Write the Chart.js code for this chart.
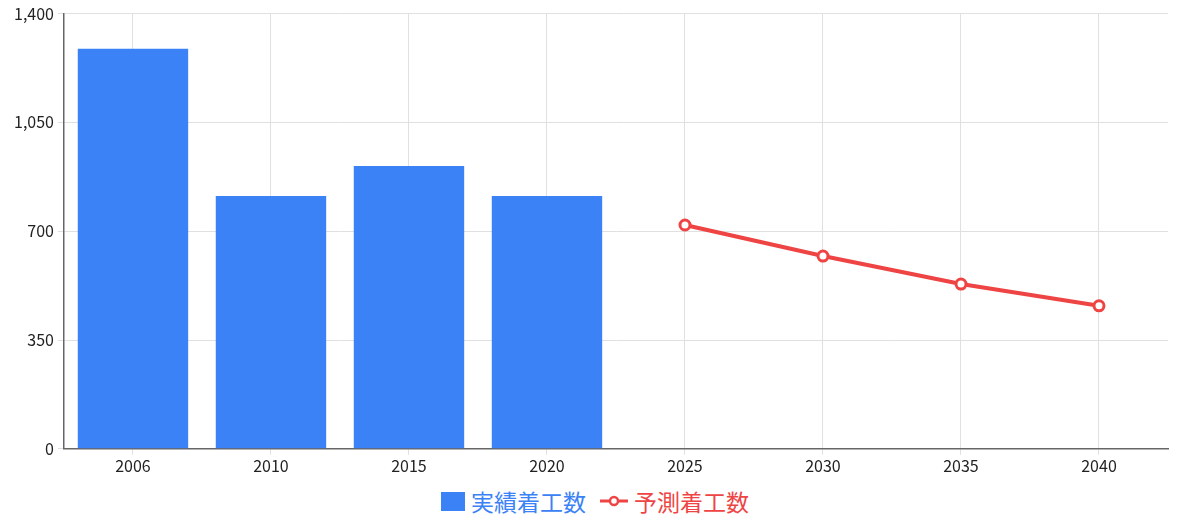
<!DOCTYPE html>
<html>
<head>
<meta charset="utf-8">
<script src="https://cdn.jsdelivr.net/npm/chart.js@4/dist/chart.umd.min.js"></script>
<style>
  body { margin: 0; background: #fff; font-family: "Noto Sans CJK JP", sans-serif; }
  #wrap { position: relative; width: 1190px; height: 478px; }
  #legend { display: flex; justify-content: center; align-items: center; gap: 14px; font-size: 23px; height: 46px; }
  .item { display: flex; align-items: center; gap: 6px; }
</style>
</head>
<body>
<div id="wrap"><canvas id="chart"></canvas></div>
<div id="legend">
  <div class="item" style="color:#3b82f6"><span style="display:inline-block;width:24px;height:19px;background:#3b82f6"></span>実績着工数</div>
  <div class="item" style="color:#ef4444">
    <svg width="28" height="12"><line x1="0" y1="6" x2="28" y2="6" stroke="#ef4444" stroke-width="3"/><circle cx="14" cy="6" r="4" fill="#fff" stroke="#ef4444" stroke-width="2.5"/></svg>予測着工数</div>
</div>
<script>
// Chart data
const years = ['2006', '2010', '2015', '2020', '2025', '2030', '2035', '2040'];
const actualStarts = [1287, 813, 910, 813, null, null, null, null];
const forecastStarts = [null, null, null, null, 720, 620, 530, 460];
const yTicks = [0, 350, 700, 1050, 1400];

const ctx = document.getElementById('chart');
new Chart(ctx, {
    data: {
        labels: years,
        datasets: [
            {
                type: 'bar',
                label: '実績着工数',
                data: actualStarts,
                backgroundColor: '#3b82f6',
                barPercentage: 0.8,
                categoryPercentage: 1.0,
                order: 2
            },
            {
                type: 'line',
                label: '予測着工数',
                data: forecastStarts,
                borderColor: '#ef4444',
                borderWidth: 4,
                pointRadius: 5,
                pointBorderWidth: 3,
                pointBackgroundColor: '#ffffff',
                pointBorderColor: '#ef4444',
                spanGaps: false,
                order: 1
            }
        ]
    },
    options: {
        responsive: true,
        maintainAspectRatio: false,
        animation: false,
        layout: { padding: { top: 8, right: 22, left: 10, bottom: 0 } },
        plugins: {
            legend: { display: false },
            tooltip: { enabled: false }
        },
        scales: {
            x: {
                offset: true,
                grid: { offset: false, color: '#e0e0e0', borderDash: [5, 4], drawTicks: true, tickLength: 6 },
                border: { display: true, color: '#666', width: 1.5, dash: [] },
                ticks: { color: '#222', font: { size: 16, family: '"Noto Sans CJK JP"' }, padding: 2 }
            },
            y: {
                min: 0,
                max: 1400,
                afterBuildTicks: axis => { axis.ticks = yTicks.map(v => ({ value: v })); },
                grid: { color: '#e0e0e0', tickLength: 6 },
                border: { display: true, color: '#666', width: 1.5 },
                ticks: { color: '#222', font: { size: 16, family: '"Noto Sans CJK JP"' }, padding: 4 }
            }
        }
    },
    plugins: [{
        id: 'dashGrid',
        beforeDraw(chart) {
            // dashed grid lines
            chart.scales.x.options.grid.borderDash = [5, 4];
            chart.ctx.setLineDash([]);
        }
    }]
});
// Chart.js v4 uses border.dash for grid dashing
const c = Chart.getChart(ctx);
c.options.scales.x.border.dash = [];
c.options.scales.x.grid.dash = [5, 4];
c.options.scales.y.grid.dash = [5, 4];
c.update();
</script>
</body>
</html>
